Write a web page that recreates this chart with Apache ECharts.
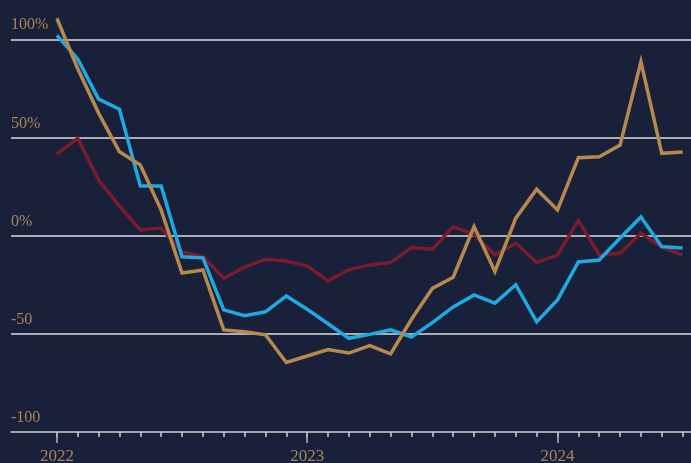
<!DOCTYPE html>
<html>
<head>
<meta charset="utf-8">
<script src="https://cdn.jsdelivr.net/npm/echarts@6/dist/echarts.min.js"></script>
<style>
    html, body { margin: 0; padding: 0; background: #182139; }
    #chart { width: 691px; height: 463px; }
</style>
</head>
<body>
<div id="chart"></div>
<script>
// months since Jan 2022
var months = [];
for (var m = 0; m <= 30; m++) { months.push(m); }
var yearTicks = [0, 12, 24];
var yearLabels = ["2022", "2023", "2024"];
var yTicks = [-100, -50, 0, 50, 100];

var redSeries = [41.6, 49.5, 28.3, 15, 2.9, 3.9, -8.3, -10.7, -21.8, -16, -12, -12.9, -15.4, -23, -17.4,
    -14.9, -13.7, -6.1, -6.9, 4.6, 0.4, -9.8, -3.9, -13.7, -9.8, 7.6, -9.8, -9, 1.2, -5.9, -9.8];
var blueSeries = [102, 90, 69.5, 64.4, 25.3, 25.3, -10.8, -11.3, -37.8, -40.8, -38.8, -30.7, -37.5, -44.9, -52.3,
    -50.3, -48, -51.6, -44.3, -36.3, -30.2, -34.4, -25, -43.9, -32.7, -13.4, -12.4, -1.2, 9.5, -5.6, -6.3];
var goldSeries = [110.7, 85, 62.4, 42.7, 36, 13, -19, -17.5, -48, -49, -50.5, -64.6, -61.3, -58, -59.8,
    -56, -60.2, -42.6, -26.9, -21.2, 4.6, -18.3, 8.9, 23.6, 13.1, 39.7, 40.2, 46.1, 88.5, 41.9, 42.6];

var TAN = "#a8865c";
var FONT = "Liberation Serif";

function $extend(a, b) {
    var o = {};
    for (var k in a) { o[k] = a[k]; }
    for (var j in b) { o[j] = b[j]; }
    return o;
}

function pairs(vals) {
    return vals.map(function (v, i) { return [months[i], v]; });
}

function lineSeries(vals, color) {
    return {
        type: "line",
        data: pairs(vals),
        symbol: "none",
        lineStyle: { color: color, width: 3.5, join: "miter" },
        itemStyle: { color: color },
        xAxisIndex: 0,
        yAxisIndex: 0
    };
}

var xBase = {
    type: "value",
    min: -2.2,
    max: 30.4,
    position: "bottom",
    splitLine: { show: false }
};

var option = {
    backgroundColor: "#182139",
    animation: false,
    grid: { left: 11, right: 0, top: 0, bottom: 31, outerBoundsMode: "none" },
    xAxis: [
        $extend(xBase, {
            axisLine: { show: true, onZero: false, lineStyle: { color: "#d0d0d0", width: 1.5 } },
            axisTick: { show: true, customValues: months, length: 5, lineStyle: { color: "#d0d0d0", width: 1.5 } },
            axisLabel: { show: false }
        }),
        $extend(xBase, {
            axisLine: { show: false, onZero: false },
            axisTick: { show: true, customValues: yearTicks, length: 11, lineStyle: { color: "#b8b8b8", width: 1.5 } },
            axisLabel: {
                show: true,
                customValues: yearTicks,
                margin: 16,
                color: TAN,
                fontFamily: FONT,
                fontSize: 17,
                formatter: function (v) { return yearLabels[yearTicks.indexOf(v)] || ""; }
            }
        })
    ],
    yAxis: {
        type: "value",
        min: -100,
        max: 120,
        interval: 50,
        axisLine: { show: false },
        axisTick: { show: false },
        splitLine: { show: true, showMinLine: false, showMaxLine: false, lineStyle: { color: "#dcdcdc", width: 1.5 } },
        axisLabel: {
            inside: true,
            margin: 0,
            customValues: yTicks,
            verticalAlign: "bottom",
            padding: [0, 0, 6, 0],
            color: TAN,
            fontFamily: FONT,
            fontSize: 16,
            formatter: function (v) { return v >= 0 ? v + "%" : String(v); }
        }
    },
    series: [
        lineSeries(redSeries, "#7a1c2e"),
        lineSeries(blueSeries, "#1fa9e1"),
        lineSeries(goldSeries, "#b8894e")
    ]
};

var chart = echarts.init(document.getElementById("chart"));
chart.setOption(option);
</script>
</body>
</html>
